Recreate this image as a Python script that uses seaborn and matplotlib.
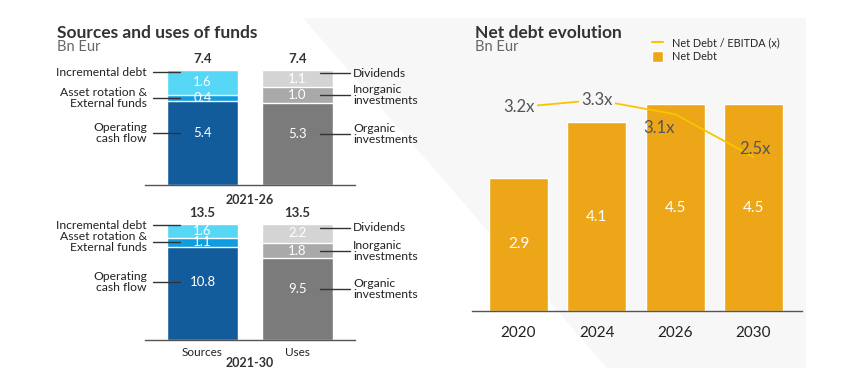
import matplotlib
matplotlib.use("Agg")
import matplotlib.pyplot as plt
import numpy as np
import seaborn as sns
from matplotlib.lines import Line2D
from matplotlib.patches import Patch, Polygon

# Data
sides = ["Sources", "Uses"]
periods = ["2021-26", "2021-30"]
source_labels = ["Operating\ncash flow", "Asset rotation &\nExternal funds", "Incremental debt"]
use_labels = ["Organic\ninvestments", "Inorganic\ninvestments", "Dividends"]
sources_2026 = [5.4, 0.4, 1.6]
uses_2026 = [5.3, 1.0, 1.1]
sources_2030 = [10.8, 1.1, 1.6]
uses_2030 = [9.5, 1.8, 2.2]

years = ["2020", "2024", "2026", "2030"]
net_debt = [2.9, 4.1, 4.5, 4.5]
debt_ebitda = [3.2, 3.3, 3.1, 2.5]

# Colours
SOURCE_COLORS = ["#135c9c", "#0f9de0", "#55d7f5"]
USE_COLORS = ["#7b7b7b", "#a9a9a9", "#d4d4d4"]
ORANGE = "#eca617"
YELLOW = "#f7c600"
BG = "#f7f7f8"
DARK = "#222222"

W, H = 853, 388

sns.set_theme(style="white")
plt.rcParams["font.family"] = ["Lato", "DejaVu Sans"]


def box(left, right, top, bottom):
    """Axes rectangle from pixel edges (origin top-left)."""
    return [left / W, 1 - bottom / H, (right - left) / W, (bottom - top) / H]


def clean(ax):
    ax.set_facecolor("none")
    for s in ["top", "right", "left"]:
        ax.spines[s].set_visible(False)
    ax.spines["bottom"].set_color("#555555")
    ax.spines["bottom"].set_linewidth(1)
    ax.set_yticks([])
    ax.set_xlabel("")
    ax.set_ylabel("")
    ax.tick_params(axis="x", length=0)


def stacked_panel(ax, sources, uses, show_ticks):
    total = round(sum(sources), 1)
    stacks = [sources, uses]
    # draw cumulative layers tallest first so lower ones sit on top
    for k in range(2, -1, -1):
        cum = [sum(s[:k + 1]) for s in stacks]
        sns.barplot(x=sides, y=cum, hue=sides,
                    palette=[SOURCE_COLORS[k], USE_COLORS[k]],
                    saturation=1, width=0.75, errorbar=None,
                    edgecolor="white", linewidth=1, legend=False, ax=ax)
    clean(ax)
    ax.set_xlim(-0.605, 1.605)
    ax.set_ylim(0, total)

    # top segment leader sits near the top, the others follow the labels
    top_frac = [0.9, 0.8]
    for j, (vals, labels) in enumerate([(sources, source_labels), (uses, use_labels)]):
        bottom = 0
        for i, v in enumerate(vals):
            if i == 0:
                ty = bottom + 0.62 * v
            else:
                ty = bottom + v / 2
            ax.text(j, ty, f"{v:.1f}", ha="center", va="center",
                    color="white", fontsize=9.5)
            ly = bottom + top_frac[j] * v if i == 2 else ty
            if j == 0:
                ax.plot([-0.521, -0.237], [ly, ly], color="#333333", lw=1, clip_on=False)
                ax.text(-0.584, ly, labels[i], ha="right", va="center",
                        color=DARK, fontsize=8.7, linespacing=1.0)
            else:
                ax.plot([1.237, 1.553], [ly, ly], color="#333333", lw=1, clip_on=False)
                ax.text(1.584, ly, labels[i], ha="left", va="center",
                        color=DARK, fontsize=8.7, linespacing=1.0)
            bottom += v
        ax.annotate(f"{round(sum(vals), 1):.1f}", (j, sum(vals)),
                    xytext=(0, 8), textcoords="offset points",
                    ha="center", va="center", fontsize=9.5,
                    fontweight="bold", color="#333333")
    if show_ticks:
        ax.set_xticks([0, 1])
        ax.set_xticklabels(sides, fontsize=8.5, color=DARK)
        ax.tick_params(axis="x", pad=5)
    else:
        ax.set_xticks([])


fig = plt.figure(figsize=(W / 100, H / 100), dpi=100)

# light background behind the right panel
bg_px = [(303, 18), (806, 18), (806, 368), (607, 368)]
fig.add_artist(Polygon([(x / W, 1 - y / H) for x, y in bg_px], closed=True,
                       facecolor=BG, edgecolor="none",
                       transform=fig.transFigure, zorder=-5))

# Left: sources and uses
ax_top = fig.add_axes(box(145, 355, 70, 185))
stacked_panel(ax_top, sources_2026, uses_2026, show_ticks=False)
ax_bot = fig.add_axes(box(145, 355, 224, 340))
stacked_panel(ax_bot, sources_2030, uses_2030, show_ticks=True)

fig.text(250 / W, 1 - 200 / H, periods[0], ha="center", va="center",
         fontsize=9, fontweight="bold", color="#333333")
fig.text(250 / W, 1 - 363 / H, periods[1], ha="center", va="center",
         fontsize=9, fontweight="bold", color="#333333")

fig.text(57 / W, 1 - 33 / H, "Sources and uses of funds", ha="left", va="center",
         fontsize=12.5, fontweight="bold", color="#333333")
fig.text(57 / W, 1 - 47 / H, "Bn Eur", ha="left", va="center",
         fontsize=10.5, color="#666666")

# Right: net debt evolution
ax = fig.add_axes(box(472, 802, 60, 311))
sns.barplot(x=years, y=net_debt, color=ORANGE, saturation=1, width=0.75,
            errorbar=None, ax=ax)
clean(ax)
ax.set_xlim(-0.594, 3.619)
ax.set_ylim(0, 5.457)
ax.set_xticks(range(len(years)))
ax.set_xticklabels(years, fontsize=11, color=DARK)
ax.tick_params(axis="x", pad=11)
for i, v in enumerate(net_debt):
    ax.text(i, v / 2, f"{v:.1f}", ha="center", va="center", color="white", fontsize=11)

ax2 = ax.twinx()
ax2.set_facecolor("none")
sns.lineplot(x=np.arange(len(years)), y=debt_ebitda, color=YELLOW, lw=1.3, ax=ax2)
ax2.set_ylim(0.339, 3.861)
ax2.set_xlim(ax.get_xlim())
ax2.axis("off")
ratio_offsets = [(0, 0), (0, 0), (-12, -10), (1, 6)]
for i, v in enumerate(debt_ebitda):
    dx, dy = ratio_offsets[i]
    boxed = dict(boxstyle="square,pad=0.15", facecolor=BG, edgecolor="none") if (dx, dy) == (0, 0) else None
    ax2.annotate(f"{v:.1f}x", (i, v), xytext=(dx, dy), textcoords="offset points",
                 ha="center", va="center", fontsize=12, color="#555555", bbox=boxed)

fig.text(475 / W, 1 - 33 / H, "Net debt evolution", ha="left", va="center",
         fontsize=12.5, fontweight="bold", color="#333333")
fig.text(475 / W, 1 - 47 / H, "Bn Eur", ha="left", va="center",
         fontsize=10.5, color="#666666")

fig.legend(handles=[Line2D([0], [0], color=YELLOW, lw=1.5), Patch(facecolor=ORANGE)],
           labels=["Net Debt / EBITDA (x)", "Net Debt"],
           loc="upper left", bbox_to_anchor=(652 / W, 1 - 37 / H), frameon=False,
           fontsize=7.8, handlelength=1.0, handleheight=1.1, handletextpad=0.8,
           labelspacing=0.3, borderpad=0, borderaxespad=0)

fig.savefig("out.png", dpi=100, facecolor="white")
